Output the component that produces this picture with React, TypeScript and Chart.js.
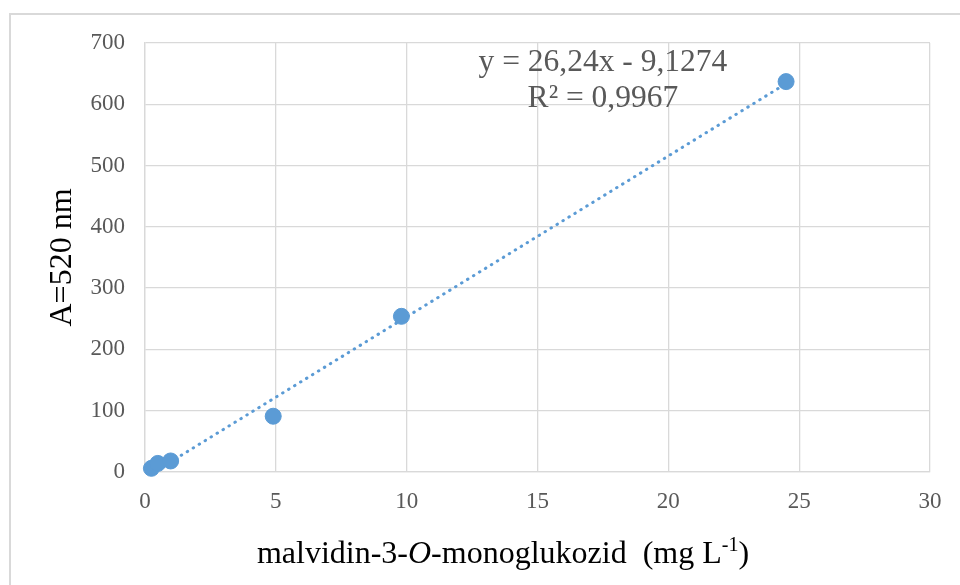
import { useEffect, useRef } from "react";
import { Chart, registerables } from "chart.js";

Chart.register(...registerables);

// Data
const concentrations = [0.245, 0.49, 0.98, 4.9, 9.8, 24.5];
const absorbances = [6, 14, 18, 91, 254, 637];

// Trendline as printed on the chart
const trendSlope = 26.24;
const trendIntercept = -9.1274;
const equationLines = ["y = 26,24x - 9,1274", "R² = 0,9967"];

const xTicks = [0, 5, 10, 15, 20, 25, 30];
const yTicks = [0, 100, 200, 300, 400, 500, 600, 700];

const yTitle = "A=520 nm";
const xTitleParts = [
  { text: "malvidin-3-", italic: false, sup: false },
  { text: "O", italic: true, sup: false },
  { text: "-monoglukozid  (mg L", italic: false, sup: false },
  { text: "-1", italic: false, sup: true },
  { text: ")", italic: false, sup: false },
];

const SERIF = "'Liberation Serif', 'Times New Roman', serif";
const BLUE = "#5b9bd5";
const GRID = "#d9d9d9";
const TICK = "#595959";

export default function App() {
  const ref = useRef<HTMLCanvasElement>(null);

  useEffect(() => {
    document.body.style.margin = "0";
    const trendXs = [Math.min(...concentrations), Math.max(...concentrations)];
    const trendPts = trendXs.map((x) => ({ x, y: trendSlope * x + trendIntercept }));
    const points = concentrations.map((x, i) => ({ x, y: absorbances[i] }));

    const framePlugin = {
      id: "frame",
      beforeDraw(chart: any) {
        const { ctx, width, height } = chart;
        ctx.save();
        ctx.fillStyle = "#ffffff";
        ctx.fillRect(0, 0, width, height);
        ctx.strokeStyle = GRID;
        ctx.lineWidth = 2;
        ctx.strokeRect(10, 14, width + 20, height + 20);
        ctx.restore();
      },
    };

    const textPlugin = {
      id: "texts",
      afterDraw(chart: any) {
        const { ctx } = chart;
        const xs = chart.scales.x;
        const ys = chart.scales.y;
        ctx.save();
        // equation annotation
        ctx.fillStyle = TICK;
        ctx.font = `31.5px ${SERIF}`;
        ctx.textAlign = "center";
        ctx.textBaseline = "middle";
        ctx.fillText(equationLines[0], xs.getPixelForValue(17.5), ys.getPixelForValue(667));
        ctx.fillText(equationLines[1], xs.getPixelForValue(17.5), ys.getPixelForValue(609));

        // x axis title with italic O and superscript
        const size = 32;
        const supSize = 20;
        const fontFor = (p: any) =>
          `${p.italic ? "italic " : ""}${p.sup ? supSize : size}px ${SERIF}`;
        let total = 0;
        for (const p of xTitleParts) {
          ctx.font = fontFor(p);
          total += ctx.measureText(p.text).width;
        }
        let x = 503 - total / 2;
        const baseY = 563;
        ctx.textAlign = "left";
        ctx.textBaseline = "alphabetic";
        ctx.fillStyle = "#000000";
        for (const p of xTitleParts) {
          ctx.font = fontFor(p);
          ctx.fillText(p.text, x, p.sup ? baseY - 12 : baseY);
          x += ctx.measureText(p.text).width;
        }
        ctx.restore();
      },
    };

    const chart = new Chart(ref.current!, {
      type: "scatter",
      data: {
        datasets: [
          {
            label: "trend",
            data: trendPts,
            showLine: true,
            borderColor: BLUE,
            borderWidth: 3,
            borderDash: [0.5, 6.5],
            borderCapStyle: "round",
            pointRadius: 0,
            pointHoverRadius: 0,
            fill: false,
            order: 2,
          } as any,
          {
            label: "points",
            data: points,
            backgroundColor: BLUE,
            borderColor: BLUE,
            pointRadius: 8,
            pointHoverRadius: 8,
            clip: false,
            order: 1,
          } as any,
        ],
      },
      options: {
        responsive: false,
        animation: false,
        layout: { padding: { left: 0, top: 43, right: 30, bottom: 0 } },
        plugins: { legend: { display: false }, tooltip: { enabled: false } },
        scales: {
          x: {
            type: "linear",
            min: 0,
            max: 30,
            afterBuildTicks: (s: any) => {
              s.ticks = xTicks.map((v) => ({ value: v }));
            },
            ticks: { padding: 16, color: TICK, font: { family: SERIF, size: 23 } },
            grid: { color: GRID, lineWidth: 1.3, drawTicks: false },
            border: { color: GRID, width: 1.3 },
            afterFit: (s: any) => {
              s.height = 113;
            },
          },
          y: {
            type: "linear",
            min: 0,
            max: 700,
            afterBuildTicks: (s: any) => {
              s.ticks = yTicks.map((v) => ({ value: v }));
            },
            ticks: { padding: 20, color: TICK, font: { family: SERIF, size: 23 } },
            grid: { color: GRID, lineWidth: 1.3, drawTicks: false },
            border: { color: GRID, width: 1.3 },
            title: {
              display: true,
              text: yTitle,
              color: "#000000",
              font: { family: SERIF, size: 32 },
              padding: { top: 43, bottom: 0 },
            },
            afterFit: (s: any) => {
              s.width = 145;
            },
          },
        },
      },
      plugins: [framePlugin, textPlugin],
    });
    return () => chart.destroy();
  }, []);

  return (
    <div style={{ position: "fixed", left: 0, top: 0, width: 960, height: 585 }}>
      <canvas ref={ref} width={960} height={585} style={{ display: "block" }} />
    </div>
  );
}
